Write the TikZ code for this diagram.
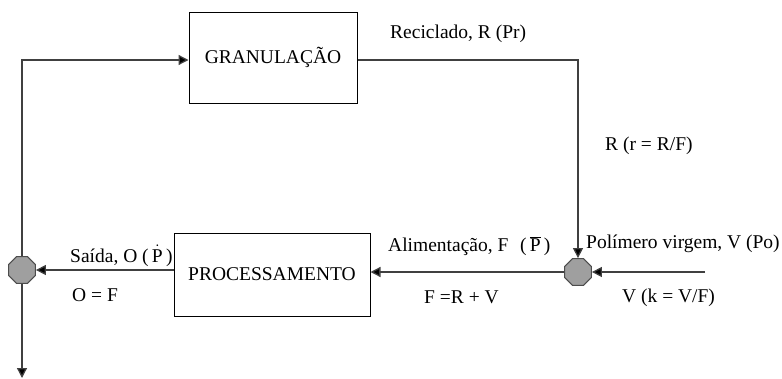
\documentclass[tikz,border=0pt]{standalone}
\usepackage{fontspec}
\setmainfont{Liberation Serif}
\usetikzlibrary{shapes.geometric,arrows.meta}
\begin{document}
\begin{tikzpicture}[x=1pt,y=-1pt,
  proc/.style={draw=black,line width=1pt,minimum width=168pt,minimum height=91pt,inner sep=0pt,font=\fontsize{19.5}{22}\selectfont},
  junc/.style={regular polygon,regular polygon sides=8,minimum size=29pt,inner sep=0pt,fill=gray!75,draw=black!70,line width=1pt},
  flow/.style={draw=black!75,line width=1.3pt,-{Triangle[length=10pt,width=10pt,fill=black]}},
  lbl/.style={font=\fontsize{19.5}{22}\selectfont,inner sep=0pt}]
\useasboundingbox (0,0) rectangle (782,378);
\node[proc] (gran) at (273,57.5) {GRANULAÇÃO};
\node[proc,minimum width=196pt,minimum height=83pt] (proc) at (272,274.5) {PROCESSAMENTO};
\node[junc] (jl) at (22,270) {};
\node[junc] (jr) at (578,272) {};
\coordinate (tl) at (22,60);
\coordinate (tr) at (578,60);
\coordinate (bot) at (22,378);
\coordinate (vin) at (705,272);
\draw[flow] (jl.north) -- (tl) -- (gran.west |- tl);
\draw[flow] (gran.east |- tr) -- (tr) -- (jr.north);
\draw[flow] (vin) -- (jr.east);
\draw[flow] (jr.west) -- (proc.east |- jr);
\draw[flow] (proc.west |- jl) -- (jl.east);
\draw[flow] (jl.south) -- (bot);
\node[lbl,anchor=west] (lrec) at (390,34) {Reciclado, R (Pr)};
\node[lbl,anchor=west] (lr) at (605,146) {R (r = R/F)};
\node[lbl,anchor=west] (lpv) at (586,244) {Polímero virgem, V (Po)};
\node[lbl,anchor=west] (lvk) at (622,298) {V (k = V/F)};
\node[lbl,anchor=west] (lal) at (388,246) {Alimentação, F\hspace{0.6em}(\,$\overline{\hbox{P}}$\,)};
\node[lbl,anchor=west] (lf) at (424,297) {F =R + V};
\node[lbl,anchor=west] (lsa) at (70,256) {Saída, O (\,$\dot{\hbox{P}}$\,)};
\node[lbl,anchor=west] (lo) at (72,295) {O = F};
\end{tikzpicture}
\end{document}
